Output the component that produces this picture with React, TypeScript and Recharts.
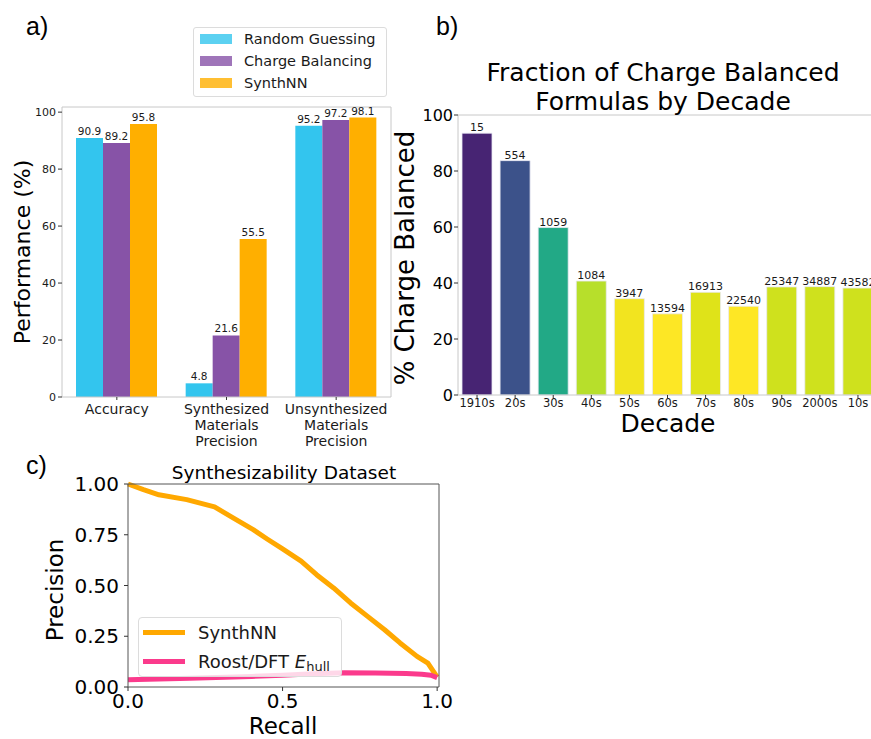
import React from 'react';
import {
  BarChart, Bar, XAxis, YAxis, LabelList, Cell, Legend, LineChart, Line,
} from 'recharts';

// ---------- Panel a data ----------
const perfCategories = ['Accuracy', 'Synthesized\nMaterials\nPrecision', 'Unsynthesized\nMaterials\nPrecision'];
const randomGuessing = [90.9, 4.8, 95.2];
const chargeBalancing = [89.2, 21.6, 97.2];
const synthNNPerf = [95.8, 55.5, 98.1];
const perfTicks = [0, 20, 40, 60, 80, 100];
const perfSeriesNames = ['Random Guessing', 'Charge Balancing', 'SynthNN'];

// ---------- Panel b data ----------
const decades = ['1910s', '20s', '30s', '40s', '50s', '60s', '70s', '80s', '90s', '2000s', '10s'];
const chargeBalancedPct = [93.5, 83.7, 59.8, 40.7, 34.4, 29.0, 36.7, 31.7, 38.6, 38.7, 38.2];
const formulaCounts = [15, 554, 1059, 1084, 3947, 13594, 16913, 22540, 25347, 34887, 43582];
const decadeTicks = [0, 20, 40, 60, 80, 100];

// ---------- Panel c data ----------
const synthRecall = [0, 0.05, 0.1, 0.19, 0.28, 0.34, 0.405, 0.45, 0.5, 0.56, 0.61, 0.665, 0.72, 0.775, 0.83, 0.88, 0.935, 0.97, 0.99, 1.0];
const synthPrecision = [1.0, 0.972, 0.947, 0.923, 0.887, 0.833, 0.775, 0.729, 0.68, 0.62, 0.553, 0.488, 0.414, 0.348, 0.282, 0.217, 0.151, 0.118, 0.072, 0.049];
const roostRecall = [0, 0.2, 0.4, 0.5, 0.6, 0.7, 0.8, 0.9, 0.95, 0.98, 1.0];
const roostPrecision = [0.036, 0.043, 0.052, 0.058, 0.065, 0.07, 0.069, 0.066, 0.063, 0.058, 0.046];
const precisionTicks = [0, 0.25, 0.5, 0.75, 1.0];
const recallTicks = [0, 0.5, 1.0];
const curveNames = ['SynthNN', 'Roost'];

// ---------- styles ----------
const FONT = '"DejaVu Sans", Verdana, sans-serif';
const COLORS_A = ['#33C5EE', '#8753A7', '#FFAF00'];
const DECADE_COLORS = ['#472473', '#3C528A', '#22A986', '#B7DF2B', '#F2E41F', '#FDE725', '#DFE319', '#FEE725', '#CFE11D', '#CFE11D', '#CFE11D'];
const SYNTH_COLOR = '#FFA800';
const ROOST_COLOR = '#FB3A8C';

const perfData = perfCategories.map((c, i) => ({
  category: c,
  random: randomGuessing[i],
  charge: chargeBalancing[i],
  synth: synthNNPerf[i],
}));

const decadeData = decades.map((d, i) => ({
  decade: d,
  pct: chargeBalancedPct[i],
  count: formulaCounts[i],
}));

const synthCurve = synthRecall.map((r, i) => ({ recall: r, precision: synthPrecision[i] }));
const roostCurve = roostRecall.map((r, i) => ({ recall: r, precision: roostPrecision[i] }));

const orderBy = (payload: any[], names: string[]) =>
  [...(payload || [])].sort((a, b) => names.indexOf(a.value) - names.indexOf(b.value));

const MultiLineTick = (props: any) => {
  const { x, y, payload } = props;
  const lines = String(payload.value).split('\n');
  return (
    <text x={x} y={y} textAnchor="middle" fontSize={14} fill="#1a1a1a" fontFamily={FONT}>
      {lines.map((l, i) => (
        <tspan key={i} x={x} dy={i === 0 ? '0.9em' : 16}>{l}</tspan>
      ))}
    </text>
  );
};

const LegendA = (props: any) => {
  const items = orderBy(props.payload, perfSeriesNames);
  return (
    <div style={{
      width: 192, height: 68, border: '1px solid #dcdcdc', borderRadius: 3, background: '#fff',
      fontFamily: FONT, fontSize: 14.5, color: '#1a1a1a', boxSizing: 'content-box',
    }}>
      {items.map((p: any, i: number) => (
        <div key={i} style={{ height: 22, display: 'flex', alignItems: 'center', position: 'relative' }}>
          <span style={{ position: 'absolute', left: 6, width: 32, height: 10, background: p.color, opacity: 0.8 }} />
          <span style={{ position: 'absolute', left: 50, lineHeight: '22px', whiteSpace: 'nowrap' }}>{p.value}</span>
        </div>
      ))}
    </div>
  );
};

const LegendC = (props: any) => {
  const items = orderBy(props.payload, curveNames);
  return (
    <div style={{
      width: 202, height: 58, border: '1px solid #dcdcdc', borderRadius: 4, background: 'rgba(255,255,255,0.8)',
      fontFamily: FONT, fontSize: 18, color: '#1a1a1a', paddingTop: 0,
    }}>
      {items.map((p: any, i: number) => (
        <div key={i} style={{ height: 29, position: 'relative' }}>
          <span style={{ position: 'absolute', left: 4, top: 12, width: 42, height: 5, background: p.color }} />
          <span style={{ position: 'absolute', left: 59, top: 0, lineHeight: '29px', whiteSpace: 'nowrap' }}>
            {p.value === 'Roost' ? (<span>Roost/DFT <i>E</i><sub style={{ fontSize: 13, verticalAlign: '-3px' }}>hull</sub></span>) : p.value}
          </span>
        </div>
      ))}
    </div>
  );
};

const abs = (left: number, top: number, extra: React.CSSProperties = {}): React.CSSProperties => ({
  position: 'absolute', left, top, ...extra,
});

const centered = (cx: number, cy: number, size: number, rotate = false, extra: React.CSSProperties = {}): React.CSSProperties => ({
  position: 'absolute', left: cx, top: cy, fontSize: size, fontFamily: FONT, color: '#000',
  whiteSpace: 'nowrap', lineHeight: 1,
  transform: `translate(-50%, -50%)${rotate ? ' rotate(-90deg)' : ''}`,
  ...extra,
});

export default function App() {
  return (
    <div style={{ position: 'absolute', left: 0, top: 0, width: 871, height: 739, overflow: 'hidden', background: '#fff' }}>
      {/* Panel a */}
      <div style={abs(0, 0)}>
        <BarChart
          width={440}
          height={450}
          data={perfData}
          margin={{ left: 22, right: 48, top: 106, bottom: 23 }}
          barGap={0}
          barSize={27}
        >
          <XAxis dataKey="category" xAxisId={0} height={30} interval={0} tick={<MultiLineTick />}
            axisLine={{ stroke: '#c8c8c8' }} tickLine={{ stroke: '#333' }} tickSize={3} tickMargin={1} />
          <XAxis xAxisId="top" orientation="top" height={1} tick={false} tickLine={false} axisLine={{ stroke: '#c8c8c8' }} />
          <YAxis yAxisId={0} width={40} domain={[0, 101.8]} ticks={perfTicks} interval={0}
            tick={{ fontSize: 11, fill: '#1a1a1a', fontFamily: FONT }}
            axisLine={{ stroke: '#c8c8c8' }} tickLine={{ stroke: '#333' }} tickSize={4} tickMargin={2} />
          <YAxis yAxisId="right" orientation="right" width={1} domain={[0, 1]} tick={false} tickLine={false} axisLine={{ stroke: '#c8c8c8' }} />
          <Legend layout="vertical" align="center" verticalAlign="middle" content={<LegendA />}
            wrapperStyle={{ left: 193, top: 27, width: 194 }} />
          <Bar dataKey="random" name={perfSeriesNames[0]} fill={COLORS_A[0]} isAnimationActive={false}>
            <LabelList dataKey="random" position="top" offset={3} style={{ fontSize: 10.5, fill: '#1a1a1a', fontFamily: FONT }} />
          </Bar>
          <Bar dataKey="charge" name={perfSeriesNames[1]} fill={COLORS_A[1]} isAnimationActive={false}>
            <LabelList dataKey="charge" position="top" offset={3} style={{ fontSize: 10.5, fill: '#1a1a1a', fontFamily: FONT }} />
          </Bar>
          <Bar dataKey="synth" name={perfSeriesNames[2]} fill={COLORS_A[2]} isAnimationActive={false}>
            <LabelList dataKey="synth" position="top" offset={3} style={{ fontSize: 10.5, fill: '#1a1a1a', fontFamily: FONT }} />
          </Bar>
        </BarChart>
      </div>

      {/* Panel b */}
      <div style={abs(380, 0)}>
        <BarChart
          width={500}
          height={450}
          data={decadeData}
          margin={{ left: 38, right: 3, top: 114, bottom: 25 }}
          barSize={30}
        >
          <XAxis dataKey="decade" height={30} interval={0}
            tick={{ fontSize: 11.5, fill: '#1a1a1a', fontFamily: FONT }}
            axisLine={{ stroke: '#c8c8c8' }} tickLine={{ stroke: '#333' }} tickSize={3} tickMargin={1} />
          <XAxis xAxisId="top" orientation="top" height={1} tick={false} tickLine={false} axisLine={{ stroke: '#c8c8c8' }} />
          <YAxis width={40} domain={[0, 100]} ticks={decadeTicks} interval={0}
            tick={{ fontSize: 16, fill: '#000', fontFamily: FONT }}
            axisLine={{ stroke: '#c8c8c8' }} tickLine={{ stroke: '#333' }} tickSize={4} tickMargin={1} />
          <Bar dataKey="pct" isAnimationActive={false} stroke="#e8e8f4" strokeWidth={0.8}>
            {decadeData.map((d, i) => (
              <Cell key={d.decade} fill={DECADE_COLORS[i]} />
            ))}
            <LabelList dataKey="count" position="top" offset={2} style={{ fontSize: 11, fill: '#1a1a1a', fontFamily: FONT }} />
          </Bar>
        </BarChart>
      </div>

      {/* Panel c */}
      <div style={abs(0, 450)}>
        <LineChart
          width={470}
          height={289}
          margin={{ left: 68, right: 30, top: 33, bottom: 22 }}
        >
          <XAxis dataKey="recall" type="number" domain={[0, 1.006]} ticks={recallTicks} interval={0} height={30}
            tickFormatter={(v: number) => v.toFixed(1)} allowDuplicatedCategory={false}
            tick={{ fontSize: 20, fill: '#000', fontFamily: FONT }}
            axisLine={{ stroke: '#555' }} tickLine={{ stroke: '#333' }} tickSize={4} tickMargin={3} />
          <XAxis xAxisId="top" orientation="top" type="number" domain={[0, 1]} height={1} tick={false} tickLine={false} axisLine={{ stroke: '#555' }} />
          <YAxis width={60} type="number" domain={[0, 1]} ticks={precisionTicks} interval={0}
            tickFormatter={(v: number) => v.toFixed(2)}
            tick={{ fontSize: 20, fill: '#000', fontFamily: FONT }}
            axisLine={{ stroke: '#555' }} tickLine={{ stroke: '#333' }} tickSize={4} tickMargin={5} />
          <YAxis yAxisId="right" orientation="right" width={1} domain={[0, 1]} tick={false} tickLine={false} axisLine={{ stroke: '#555' }} />
          <Line data={synthCurve} dataKey="precision" name="SynthNN" stroke={SYNTH_COLOR} strokeWidth={5}
            dot={false} type="linear" strokeLinejoin="round" isAnimationActive={false} />
          <Line data={roostCurve} dataKey="precision" name="Roost" stroke={ROOST_COLOR} strokeWidth={5}
            dot={false} type="linear" strokeLinejoin="round" isAnimationActive={false} />
          <Legend layout="vertical" align="center" verticalAlign="middle" content={<LegendC />}
            wrapperStyle={{ left: 138, top: 167, width: 204 }} />
        </LineChart>
      </div>

      {/* Text overlays */}
      <div style={abs(26, 14, { fontFamily: '"Liberation Sans", Arial, sans-serif', fontSize: 25, lineHeight: 1 })}>a)</div>
      <div style={abs(436, 14, { fontFamily: '"Liberation Sans", Arial, sans-serif', fontSize: 25, lineHeight: 1 })}>b)</div>
      <div style={abs(26, 453, { fontFamily: '"Liberation Sans", Arial, sans-serif', fontSize: 25, lineHeight: 1 })}>c)</div>

      <div style={centered(23, 252, 22, true)}>Performance (%)</div>

      <div style={abs(463, 58, { width: 400, textAlign: 'center', fontFamily: FONT, fontSize: 25, lineHeight: '29px', color: '#000' })}>
        Fraction of Charge Balanced<br />Formulas by Decade
      </div>
      <div style={centered(405, 258, 26, true)}>% Charge Balanced</div>
      <div style={centered(668, 423, 25)}>Decade</div>

      <div style={centered(284, 473, 18.5)}>Synthesizability Dataset</div>
      <div style={centered(55, 590, 23, true)}>Precision</div>
      <div style={centered(283, 726, 23)}>Recall</div>
    </div>
  );
}
